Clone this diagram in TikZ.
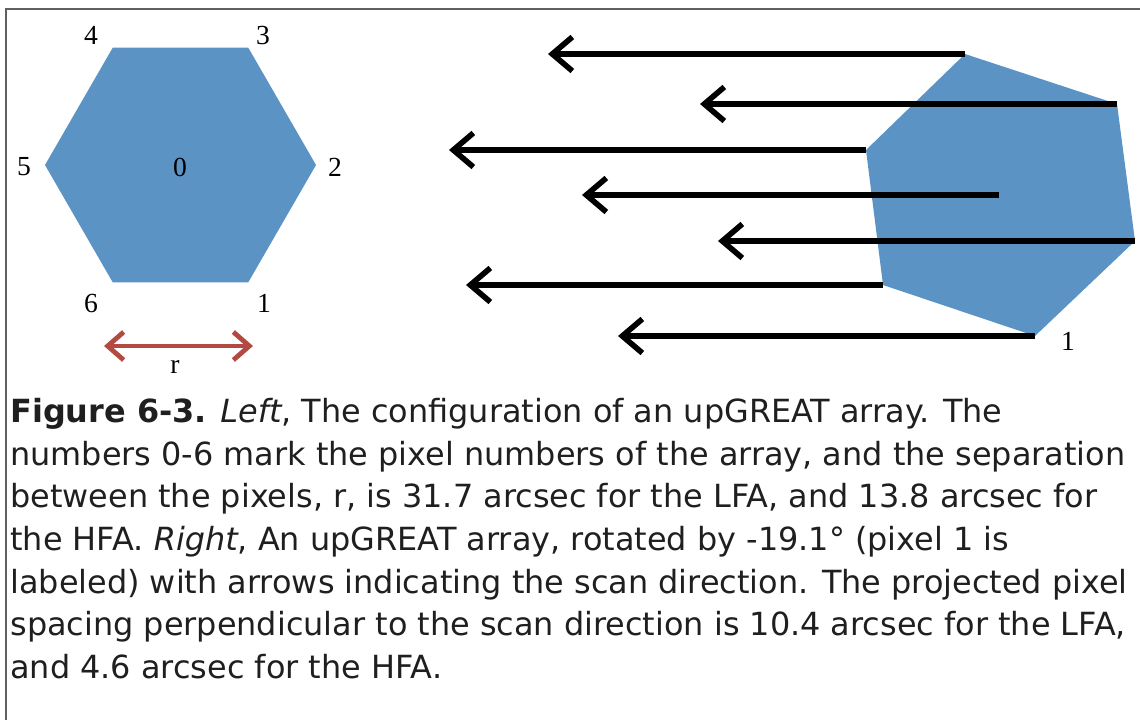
\documentclass[tikz,border=0pt]{standalone}
\usepackage{fontspec}
\setmainfont{Liberation Serif}
\newfontfamily\capfont{DejaVu Sans}
\usetikzlibrary{arrows.meta,calc}
\definecolor{pixblue}{RGB}{91,147,196}
\definecolor{sepred}{RGB}{178,74,66}
\definecolor{framegray}{RGB}{96,96,96}

\begin{document}
\begin{tikzpicture}[x=0.5pt, y=0.5pt, font=\fontsize{13.8}{16}\selectfont,
  scanarrow/.style={line width=2.8pt, -{Straight Barb[length=10pt,width=17pt]}},
  pixlabel/.style={inner sep=0pt},
  capline/.style={anchor=base west, inner sep=0pt, text=black!88,
    font=\capfont\fontsize{15.95}{18}\selectfont}]
\useasboundingbox (0,0) rectangle (1140,720);
% frame: only the top and left edges are inside the picture
\draw[framegray, line width=1.3pt] (6,0) -- (6,711) -- (1140,711);
% left: the array, flat-topped hexagon, pixel 0 in the middle
\coordinate (lc) at (180.5,555);
\foreach \n/\a in {1/300,2/0,3/60,4/120,5/180,6/240}
  \coordinate (lp\n) at ($(lc)+(\a:135.5)$);
\fill[pixblue] (lp1) -- (lp2) -- (lp3) -- (lp4) -- (lp5) -- (lp6) -- cycle;
\foreach \n/\x/\y in {0/180/553, 1/264/417, 2/335/553, 3/263/685,
                      4/91/685, 5/24/553, 6/91/417}
  \node[pixlabel] (ll\n) at (\x,\y) {\n};
% separation r
\coordinate (sepl) at (104,374);
\coordinate (sepr) at (253,374);
\draw[sepred, line width=2.4pt, line join=round,
  {Straight Barb[length=8pt,width=14pt]}-{Straight Barb[length=8pt,width=14pt]}]
  (sepl) -- (sepr);
\node[pixlabel] (rlbl) at (175,353) {r};
% right: the same array rotated by -19.1 deg, scan arrows from every pixel
\foreach \n/\x/\y in {0/999/525, 1/1035/384, 2/1135/479, 3/1117/616,
                      4/965/666, 5/866/570, 6/883/435}
  \coordinate (rp\n) at (\x,\y);
\fill[pixblue] (rp1) -- (rp2) -- (rp3) -- (rp4) -- (rp5) -- (rp6) -- cycle;
\foreach \n in {0,...,6}{%
  \coordinate (rt\n) at ($(rp\n)+(-417,0)$);
  \draw[scanarrow] (rp\n) -- (rt\n);}
\node[pixlabel] (rl1) at (1068,379) {1};
% caption
\foreach \ln/\y [count=\i] in {
  {\textbf{Figure 6-3.} \textit{Left}, The configuration of an upGREAT array. The}/298,
  {numbers 0-6 mark the pixel numbers of the array, and the separation}/255,
  {between the pixels, r, is 31.7 arcsec for the LFA, and 13.8 arcsec for}/213,
  {the HFA. \textit{Right}, An upGREAT array, rotated by -19.1° (pixel 1 is}/170,
  {labeled) with arrows indicating the scan direction. The projected pixel}/127,
  {spacing perpendicular to the scan direction is 10.4 arcsec for the LFA,}/85,
  {and 4.6 arcsec for the HFA.}/42}
  \node[capline] (cap\i) at (10,\y) {\ln};
\end{tikzpicture}
\end{document}
